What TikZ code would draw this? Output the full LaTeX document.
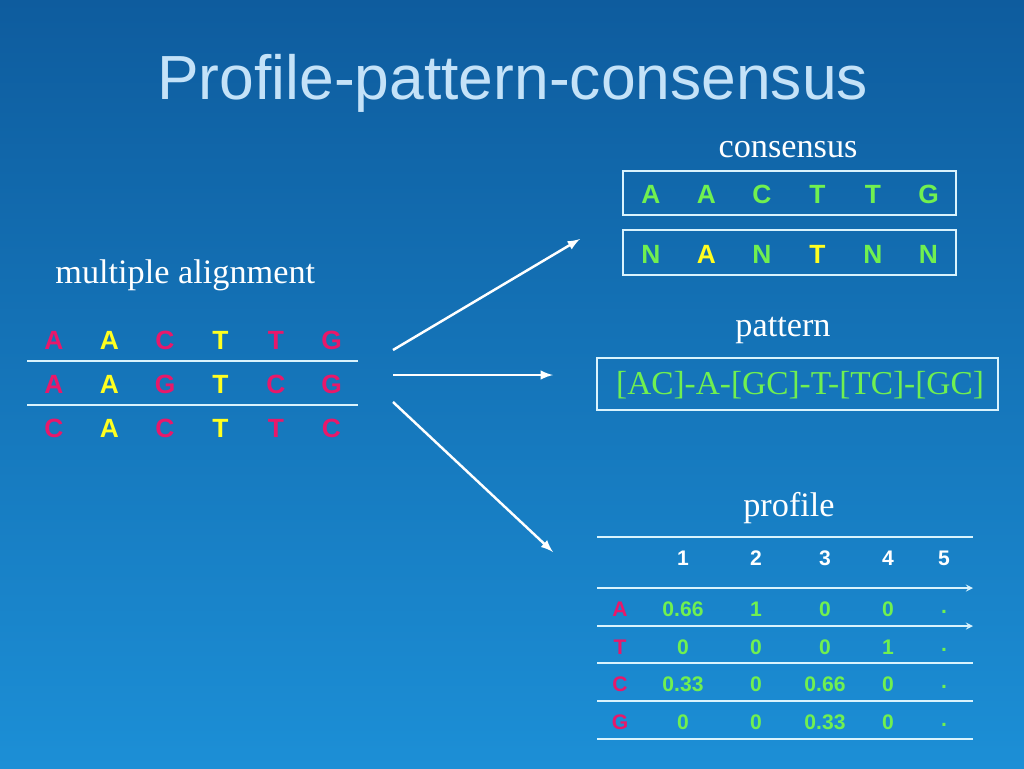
\documentclass[tikz,border=0pt]{standalone}
\usepackage{fontspec}
\setmainfont{Liberation Serif}
\newfontfamily\arial{Liberation Sans}
\definecolor{bgtop}{HTML}{0E5C9E}
\definecolor{bgbot}{HTML}{1C8FD6}
\definecolor{pinkres}{HTML}{E8186A}
\definecolor{yellowres}{HTML}{FFFF20}
\definecolor{greenres}{HTML}{70F050}
\definecolor{titleblue}{HTML}{C4E2F8}
\tikzset{
  res/.style={font=\arial\bfseries\fontsize{15}{15}\selectfont, inner sep=0pt},
  caption/.style={font=\fontsize{19.5}{19.5}\selectfont, text=white, inner sep=0pt},
  rule/.style={draw=white!85!cyan, line width=0.8pt},
  flow/.style={draw=white, line width=1.4pt, -latex}
}
\begin{document}
\begin{tikzpicture}[x=0.02cm, y=-0.02cm]
  \shade[top color=bgtop, bottom color=bgbot] (0,0) rectangle (1024,768);
  \useasboundingbox (0,0) rectangle (1024,768);

  \node[font=\arial\fontsize{35.5}{35.5}\selectfont, text=titleblue, anchor=west, inner sep=0pt] (title) at (157,83) {Profile-pattern-consensus};

  % multiple alignment
  \node[caption, anchor=west] (malabel) at (55,275) {multiple alignment};
  \foreach \lt/\cl [count=\i] in {A/pinkres, A/yellowres, C/pinkres, T/yellowres, T/pinkres, G/pinkres}
    \node[res, text=\cl] (r1c\i) at ({54+(\i-1)*55.5},340) {\lt};
  \foreach \lt/\cl [count=\i] in {A/pinkres, A/yellowres, G/pinkres, T/yellowres, C/pinkres, G/pinkres}
    \node[res, text=\cl] (r2c\i) at ({54+(\i-1)*55.5},384) {\lt};
  \foreach \lt/\cl [count=\i] in {C/pinkres, A/yellowres, C/pinkres, T/yellowres, T/pinkres, C/pinkres}
    \node[res, text=\cl] (r3c\i) at ({54+(\i-1)*55.5},428) {\lt};
  \draw[rule] (27,361) -- (358,361);
  \draw[rule] (27,405) -- (358,405);

  % arrows
  \coordinate (src1) at (393,350);
  \coordinate (src2) at (393,375);
  \coordinate (src3) at (393,402);
  \coordinate (dst1) at (580,239);
  \coordinate (dst2) at (553,375);
  \coordinate (dst3) at (553,552);
  \draw[flow] (src1) -- (dst1);
  \draw[flow] (src2) -- (dst2);
  \draw[flow] (src3) -- (dst3);

  % consensus
  \node[caption, anchor=base] (conslabel) at (788,157) {consensus};
  \draw[rule] (623,171) rectangle (956,215);
  \foreach \lt [count=\i] in {A,A,C,T,T,G}
    \node[res, text=greenres] (cs\i) at ({651+(\i-1)*55.5},194) {\lt};
  \draw[rule] (623,230) rectangle (956,275);
  \foreach \lt/\cl [count=\i] in {N/greenres, A/yellowres, N/greenres, T/yellowres, N/greenres, N/greenres}
    \node[res, text=\cl] (cn\i) at ({651+(\i-1)*55.5},254) {\lt};

  % pattern
  \node[caption, anchor=base] (patlabel) at (783,336) {pattern};
  \draw[rule] (597,358) rectangle (998,410);
  \node[caption, text=greenres, font=\fontsize{19}{19}\selectfont] (pat) at (800,385) {[AC]-A-[GC]-T-[TC]-[GC]};

  % profile
  \node[caption, anchor=base] (proflabel) at (789,516) {profile};
  \draw[rule] (597,537) -- (973,537);
  \foreach \n/\x in {1/683,2/756,3/825,4/888,5/944}
    \node[res, text=white, font=\arial\bfseries\fontsize{12}{12}\selectfont] (hd\n) at (\x,558) {\n};
  \draw[rule, -stealth] (597,588) -- (973,588);
  \draw[rule, -stealth] (597,626) -- (973,626);
  \draw[rule] (597,663) -- (973,663);
  \draw[rule] (597,701) -- (973,701);
  \draw[rule] (597,739) -- (973,739);
  \foreach \r/\y/\a/\b/\c/\d in {A/609/0.66/1/0/0, T/647/0/0/0/1, C/684/0.33/0/0.66/0, G/722/0/0/0.33/0}{
    \node[res, text=pinkres, font=\arial\bfseries\fontsize{12}{12}\selectfont] (pr\r) at (620,\y) {\r};
    \foreach \v/\x in {\a/683,\b/756,\c/825,\d/888}
      \node[res, text=greenres, font=\arial\bfseries\fontsize{12}{12}\selectfont] at (\x,\y) {\v};
    \node[res, text=greenres, font=\arial\bfseries\fontsize{12}{12}\selectfont] at (944,{\y+3}) {.};
  }
\end{tikzpicture}
\end{document}
